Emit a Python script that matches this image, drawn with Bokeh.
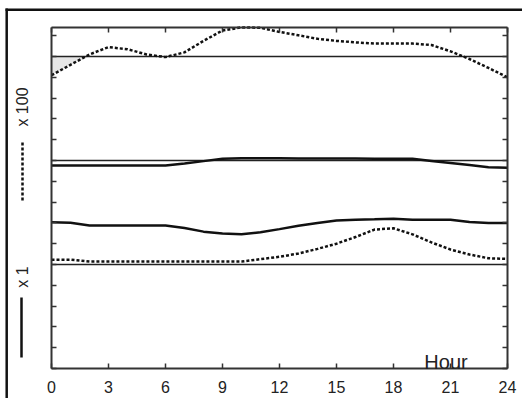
import numpy as np
from bokeh.plotting import figure
from bokeh.models import Range1d, FixedTicker, LinearAxis, Label, Arrow
from bokeh.embed import file_html
from bokeh.resources import INLINE

# ---- data ----
hours = list(range(25))
# dotted curves are the "x 100" series, solid curves the "x 1" series (plotted offsets)
dot_hi = [14.1, 14.6, 15.1, 15.45, 15.35, 15.1, 14.97, 15.2, 15.75, 16.25, 16.4, 16.38,
          16.18, 16.02, 15.85, 15.75, 15.68, 15.62, 15.62, 15.62, 15.55, 15.25, 14.88,
          14.45, 14.0]
sol_hi = [9.76, 9.76, 9.76, 9.76, 9.76, 9.76, 9.76, 9.86, 9.97, 10.08, 10.11, 10.11,
          10.11, 10.1, 10.1, 10.1, 10.1, 10.09, 10.08, 10.08, 9.98, 9.88, 9.78, 9.68, 9.65]
sol_lo = [7.03, 7.01, 6.88, 6.88, 6.88, 6.88, 6.88, 6.75, 6.58, 6.49, 6.45, 6.55, 6.7,
          6.86, 7.0, 7.12, 7.15, 7.17, 7.2, 7.15, 7.15, 7.15, 7.04, 7.0, 6.99]
dot_lo = [5.23, 5.23, 5.14, 5.14, 5.14, 5.14, 5.14, 5.14, 5.14, 5.14, 5.14, 5.26, 5.37,
          5.53, 5.75, 6.0, 6.32, 6.68, 6.74, 6.45, 6.06, 5.72, 5.48, 5.3, 5.27]
ref_levels = [5, 10, 15]
x_ticks = [0, 3, 6, 9, 12, 15, 18, 21, 24]
y_ticks = list(range(0, 17))
x_label = "Hour"
legend_top = "x 100"
legend_bottom = "x 1"

FONT = "Liberation Sans"
INK = "#111111"
W, H = 522, 398

# ---- layout (pixels of the canvas) ----
X0, PX_H = 51.0, 19.0          # canvas x of hour 0, pixels per hour
Y0, PX_V = 368.0, 20.8         # canvas y of level 0, pixels per level unit
BOX_TOP = 27.0                 # canvas y of the plot box top


def hx(px):
    return (px - X0) / PX_H


def vy(py):
    return (Y0 - py) / PX_V


v_top = vy(BOX_TOP)

p = figure(width=W, height=H, output_backend="svg", toolbar_location=None,
           x_range=Range1d(hx(0), hx(W)), y_range=Range1d(vy(H), vy(0)),
           x_axis_location=None, y_axis_location=None,
           min_border=0, min_border_left=0, min_border_right=0,
           min_border_top=0, min_border_bottom=0)
p.grid.visible = False
p.background_fill_color = "white"
p.border_fill_color = "white"
p.outline_line_color = None


def make_axis(loc, ticks, bounds, labels):
    ax = LinearAxis(ticker=FixedTicker(ticks=ticks), fixed_location=loc, bounds=bounds)
    ax.axis_line_color = "#333333"
    ax.axis_line_width = 2
    ax.major_tick_in = 5
    ax.major_tick_out = 0
    ax.minor_tick_line_color = None
    ax.major_tick_line_color = "#333333"
    ax.major_tick_line_width = 1.5
    if labels:
        ax.major_label_text_font = FONT
        ax.major_label_text_font_size = "16px"
        ax.major_label_text_color = "#222222"
        ax.major_label_standoff = 12
    else:
        ax.major_label_text_color = None
    return ax


p.add_layout(make_axis(0, x_ticks, (0, 24), True), "below")
p.add_layout(make_axis(0, y_ticks, (0, v_top), False), "left")
p.add_layout(make_axis(v_top, x_ticks, (0, 24), False), "above")
p.add_layout(make_axis(24, y_ticks, (0, v_top), False), "right")

# light shading where the upper dotted curve dips below its reference level
sh_x = hours[:3]
sh_y = list(np.minimum(dot_hi[:3], ref_levels[2]))
p.varea(x=sh_x, y1=sh_y, y2=[ref_levels[2]] * len(sh_x), fill_color="#e6e6e6")

for lv in ref_levels:
    p.segment(x0=[0], y0=[lv], x1=[24], y1=[lv], line_color="#222222", line_width=1.5)

p.line(hours, dot_hi, line_width=2.5, line_dash="3 2", line_color=INK)
p.line(hours, sol_hi, line_width=2.5, line_color=INK)
p.line(hours, sol_lo, line_width=2.5, line_color=INK)
p.line(hours, dot_lo, line_width=2.5, line_dash="3 2", line_color=INK)

p.add_layout(Label(x=hx(445.5), y=vy(361.5), text=x_label, text_font=FONT,
                   text_font_size="20px", text_color="#222222",
                   text_align="center", text_baseline="alphabetic"))

# legend at the left, outside the plot box
p.add_layout(Label(x=hx(22), y=vy(106.5), text=legend_top, angle=np.pi / 2,
                   text_font=FONT, text_font_size="16px", text_color="#222222",
                   text_align="center", text_baseline="middle"))
p.add_layout(Arrow(x_start=hx(22), y_start=vy(142), x_end=hx(22), y_end=vy(200),
                   end=None, line_color=INK, line_width=2.5, line_dash="3 2"))
p.add_layout(Label(x=hx(21.5), y=vy(276.5), text=legend_bottom, angle=np.pi / 2,
                   text_font=FONT, text_font_size="16px", text_color="#222222",
                   text_align="center", text_baseline="middle"))
p.add_layout(Arrow(x_start=hx(21), y_start=vy(297), x_end=hx(21), y_end=vy(357),
                   end=None, line_color=INK, line_width=2.5))

# outer frame: only its top and left edges fall inside the picture
p.add_layout(Arrow(x_start=hx(5), y_start=vy(9.2), x_end=hx(W + 5), y_end=vy(9.2),
                   end=None, line_color=INK, line_width=2.5))
p.add_layout(Arrow(x_start=hx(6.2), y_start=vy(8), x_end=hx(6.2), y_end=vy(H + 5),
                   end=None, line_color=INK, line_width=2.5))

open("out.html", "w").write(file_html(p, INLINE))
